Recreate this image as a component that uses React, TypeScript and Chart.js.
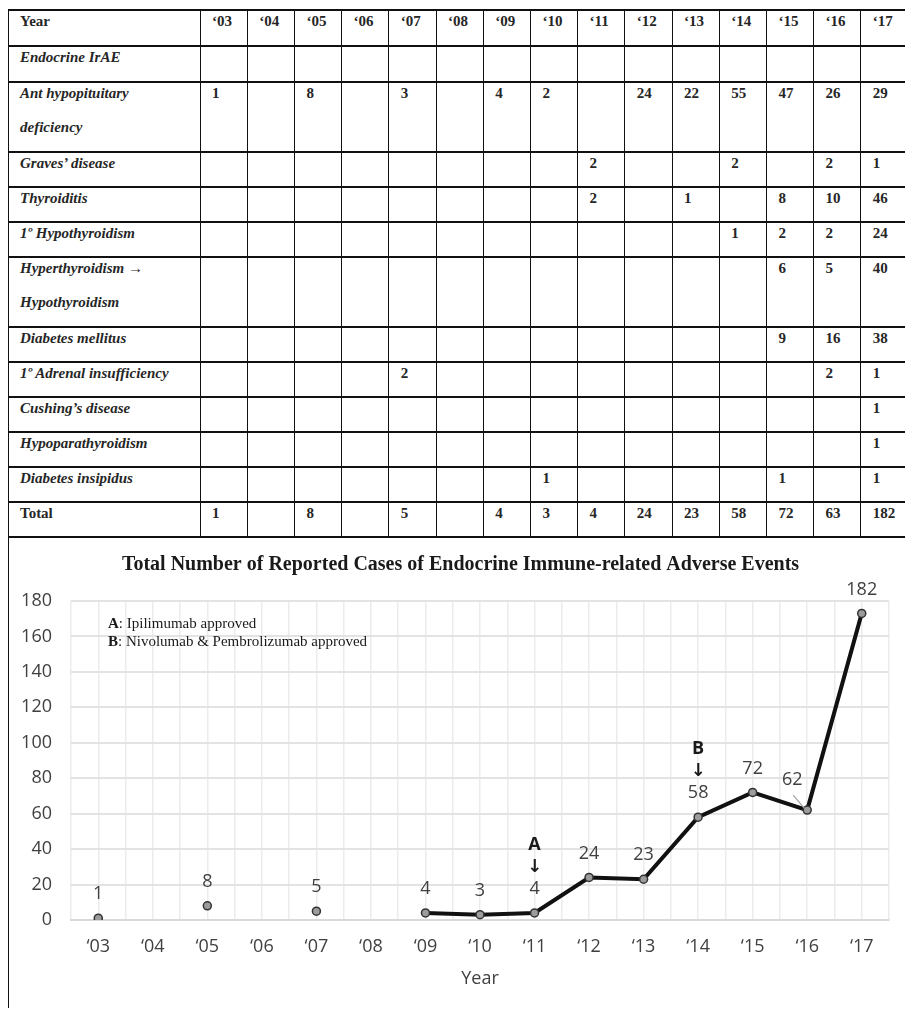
import React, { useEffect, useRef } from "react";
import { Chart, registerables } from "chart.js";

Chart.register(...registerables);

// ---------- DATA ----------
const years = ["‘03", "‘04", "‘05", "‘06", "‘07", "‘08", "‘09", "‘10", "‘11", "‘12", "‘13", "‘14", "‘15", "‘16", "‘17"];

const antHypopituitary = [1, null, 8, null, 3, null, 4, 2, null, 24, 22, 55, 47, 26, 29];
const gravesDisease = [null, null, null, null, null, null, null, null, 2, null, null, 2, null, 2, 1];
const thyroiditis = [null, null, null, null, null, null, null, null, 2, null, 1, null, 8, 10, 46];
const primaryHypothyroidism = [null, null, null, null, null, null, null, null, null, null, null, 1, 2, 2, 24];
const hyperToHypothyroidism = [null, null, null, null, null, null, null, null, null, null, null, null, 6, 5, 40];
const diabetesMellitus = [null, null, null, null, null, null, null, null, null, null, null, null, 9, 16, 38];
const adrenalInsufficiency = [null, null, null, null, 2, null, null, null, null, null, null, null, null, 2, 1];
const cushingsDisease = [null, null, null, null, null, null, null, null, null, null, null, null, null, null, 1];
const hypoparathyroidism = [null, null, null, null, null, null, null, null, null, null, null, null, null, null, 1];
const diabetesInsipidus = [null, null, null, null, null, null, null, 1, null, null, null, null, 1, null, 1];
const tableTotals = [1, null, 8, null, 5, null, 4, 3, 4, 24, 23, 58, 72, 63, 182];
const emptyRow = [null, null, null, null, null, null, null, null, null, null, null, null, null, null, null];

// chart series (as drawn in the figure) and its point labels
const chartTotals = [1, null, 8, null, 5, null, 4, 3, 4, 24, 23, 58, 72, 62, 173];
const pointLabels = ["1", "", "8", "", "5", "", "4", "3", "4", "24", "23", "58", "72", "62", "182"];

const approvalYears = ["‘11", "‘14"];
const approvalLetters = ["A", "B"];
const approvalNotes = ["Ipilimumab approved", "Nivolumab & Pembrolizumab approved"];

const chartTitle = "Total Number of Reported Cases of Endocrine Immune-related Adverse Events";
const yTicks = { min: 0, max: 180, step: 20 };

type Row = { label: string; values: (number | null)[]; italic: boolean };
const tableRows: Row[] = [
  { label: "Endocrine IrAE", values: emptyRow, italic: true },
  { label: "Ant hypopituitary\ndeficiency", values: antHypopituitary, italic: true },
  { label: "Graves’ disease", values: gravesDisease, italic: true },
  { label: "Thyroiditis", values: thyroiditis, italic: true },
  { label: "1º Hypothyroidism", values: primaryHypothyroidism, italic: true },
  { label: "Hyperthyroidism →\nHypothyroidism", values: hyperToHypothyroidism, italic: true },
  { label: "Diabetes mellitus", values: diabetesMellitus, italic: true },
  { label: "1º Adrenal insufficiency", values: adrenalInsufficiency, italic: true },
  { label: "Cushing’s disease", values: cushingsDisease, italic: true },
  { label: "Hypoparathyroidism", values: hypoparathyroidism, italic: true },
  { label: "Diabetes insipidus", values: diabetesInsipidus, italic: true },
  { label: "Total", values: tableTotals, italic: false },
];

// ---------- LAYOUT ----------
const SERIF = '"Liberation Serif", "Times New Roman", Times, serif';
const SANS = '"Open Sans", "Noto Sans", sans-serif';
const TABLE_TOP = 10;
const LEFT = 8;
const FIRST_COL_W = 192;
const COL_W = 47.2;
const LINE_H = 35;
const TEXT_COLOR = "#262626";
const AXIS_TEXT = "#404040";
const CANVAS_LEFT = 9;
const CANVAS_TOP = 540;
const CANVAS_W = 896;
const CANVAS_H = 469;

function Table() {
  const all = [{ label: "Year", values: years as any[], italic: false, header: true }, ...tableRows.map((r) => ({ ...r, header: false }))];
  const tops: number[] = [];
  let y = TABLE_TOP;
  all.forEach((r, i) => {
    tops.push(y);
    const lines = r.label.split("\n").length;
    y += lines * LINE_H + (i < 2 ? 1 : 0);
  });
  const bottom = y;
  const colXs = [LEFT, ...years.map((_, i) => LEFT + FIRST_COL_W + i * COL_W)];
  const els: React.ReactNode[] = [];
  [...tops, bottom].forEach((ty, i) => {
    els.push(
      <div key={"h" + i} style={{ position: "absolute", left: LEFT, top: ty - 1, width: 905 - LEFT, height: 2, background: "#111" }} />
    );
  });
  colXs.forEach((cx, i) => {
    els.push(
      <div
        key={"v" + i}
        style={{ position: "absolute", left: cx - 0.5, top: TABLE_TOP - 1, width: i === 0 ? 1.5 : 1, height: i === 0 ? 1009 - TABLE_TOP : bottom - TABLE_TOP + 1, background: "#111" }}
      />
    );
  });
  all.forEach((r, ri) => {
    const top = tops[ri] + 1;
    const font = { fontFamily: SERIF, fontSize: 15, fontWeight: 700 as const, color: TEXT_COLOR };
    els.push(
      <div key={"l" + ri} style={{ position: "absolute", left: LEFT + 12, top, ...font, fontStyle: r.italic ? "italic" : "normal", whiteSpace: "nowrap" }}>
        {r.label.split("\n").map((t, k) => (
          <div key={k} style={{ height: LINE_H - 1, lineHeight: "20px" }}>{t}</div>
        ))}
      </div>
    );
    r.values.forEach((v: any, ci: number) => {
      if (v === null || v === undefined) return;
      els.push(
        <div key={"c" + ri + "_" + ci} style={{ position: "absolute", left: colXs[ci + 1] + 12, top, ...font, lineHeight: "20px", whiteSpace: "nowrap" }}>
          {String(v)}
        </div>
      );
    });
  });
  return <>{els}</>;
}

const labelShift: Record<number, { dx: number; dy: number }> = { 13: { dx: -15, dy: -30 } };

const annotatePlugin = {
  id: "annotate",
  afterDatasetsDraw(chart: any) {
    const { ctx, chartArea } = chart;
    const meta = chart.getDatasetMeta(0);
    ctx.save();
    // title
    ctx.textAlign = "center";
    ctx.textBaseline = "middle";
    ctx.fillStyle = "#1a1a1a";
    ctx.font = `bold 20px ${SERIF}`;
    ctx.fillText(chartTitle, 451.5, 25);
    // point labels
    ctx.font = `18px ${SANS}`;
    ctx.fillStyle = AXIS_TEXT;
    meta.data.forEach((pt: any, i: number) => {
      const t = pointLabels[i];
      if (!t) return;
      const s = labelShift[i] || { dx: 0, dy: -24 };
      ctx.fillText(t, pt.x + s.dx, pt.y + s.dy);
      if (labelShift[i]) {
        ctx.strokeStyle = "#a0a0a0";
        ctx.lineWidth = 1.2;
        ctx.beginPath();
        ctx.moveTo(pt.x - 14, pt.y - 15);
        ctx.lineTo(pt.x - 3, pt.y - 2);
        ctx.stroke();
      }
    });
    approvalYears.forEach((yr, k) => {
      const idx = years.indexOf(yr);
      const pt = meta.data[idx];
      ctx.fillStyle = "#1a1a1a";
      ctx.font = `bold 18px ${SANS}`;
      ctx.fillText(approvalLetters[k], pt.x, pt.y - 68);
      ctx.font = `bold 18px "DejaVu Sans", ${SANS}`;
      ctx.fillText("↓", pt.x, pt.y - 46);
    });
    ctx.textAlign = "left";
    ctx.fillStyle = "#1a1a1a";
    approvalNotes.forEach((note, k) => {
      const x = chartArea.left + 37;
      const y = chartArea.top + 23 + k * 18;
      ctx.font = `bold 15px ${SERIF}`;
      const lead = approvalLetters[k];
      ctx.fillText(lead, x, y);
      const w = ctx.measureText(lead).width;
      ctx.font = `15px ${SERIF}`;
      ctx.fillText(": " + note, x + w, y);
    });
    ctx.restore();
  },
};

function LineChart() {
  const ref = useRef<HTMLCanvasElement | null>(null);
  useEffect(() => {
    if (!ref.current) return;
    const chart = new Chart(ref.current, {
      type: "line",
      data: {
        datasets: [
          {
            data: chartTotals.map((v, i) => ({ x: i, y: v as any })),
            borderColor: "#111",
            borderWidth: 4,
            pointRadius: 4,
            pointBackgroundColor: "#9c9c9c",
            pointBorderColor: "#333",
            pointBorderWidth: 1.5,
            spanGaps: false,
            tension: 0,
          } as any,
        ],
      },
      options: {
        animation: false,
        responsive: false,
        maintainAspectRatio: false,
        devicePixelRatio: 1,
        layout: { padding: { left: 0, right: 12, top: 61, bottom: 0 } },
        plugins: {
          legend: { display: false },
          tooltip: { enabled: false },
          title: { display: false },
        },
        scales: {
          x: {
            type: "linear",
            min: -0.5,
            max: years.length - 0.5,
            ticks: {
              stepSize: 0.5,
              autoSkip: false,
              maxRotation: 0,
              padding: 16,
              color: AXIS_TEXT,
              font: { family: SANS, size: 18 },
              callback: (v: any) => (Number.isInteger(v) ? years[v] : ""),
            },
            grid: { color: "#ececec", lineWidth: 1.5, drawTicks: false },
            border: { display: true, color: "#d9d9d9", width: 2 },
            title: {
              display: true,
              text: "Year",
              color: AXIS_TEXT,
              font: { family: SANS, size: 18 },
              padding: { top: 6, bottom: 19 },
            },
            afterFit: (s: any) => {
              s.height = 89;
            },
          },
          y: {
            min: yTicks.min,
            max: yTicks.max,
            ticks: { stepSize: yTicks.step, padding: 19, color: AXIS_TEXT, font: { family: SANS, size: 18 } },
            grid: { color: "#e3e3e3", lineWidth: 2, drawTicks: false },
            border: { display: false },
            afterFit: (s: any) => {
              s.width = 62;
            },
          },
        },
      } as any,
      plugins: [annotatePlugin],
    });
    return () => chart.destroy();
  }, []);
  return (
    <canvas
      ref={ref}
      width={CANVAS_W}
      height={CANVAS_H}
      style={{ position: "absolute", left: CANVAS_LEFT, top: CANVAS_TOP, width: CANVAS_W, height: CANVAS_H }}
    />
  );
}

export default function App() {
  return (
    <div style={{ position: "fixed", left: 0, top: 0, width: 905, height: 1009, overflow: "hidden", background: "#fff" }}>
      <Table />
      <LineChart />
    </div>
  );
}
